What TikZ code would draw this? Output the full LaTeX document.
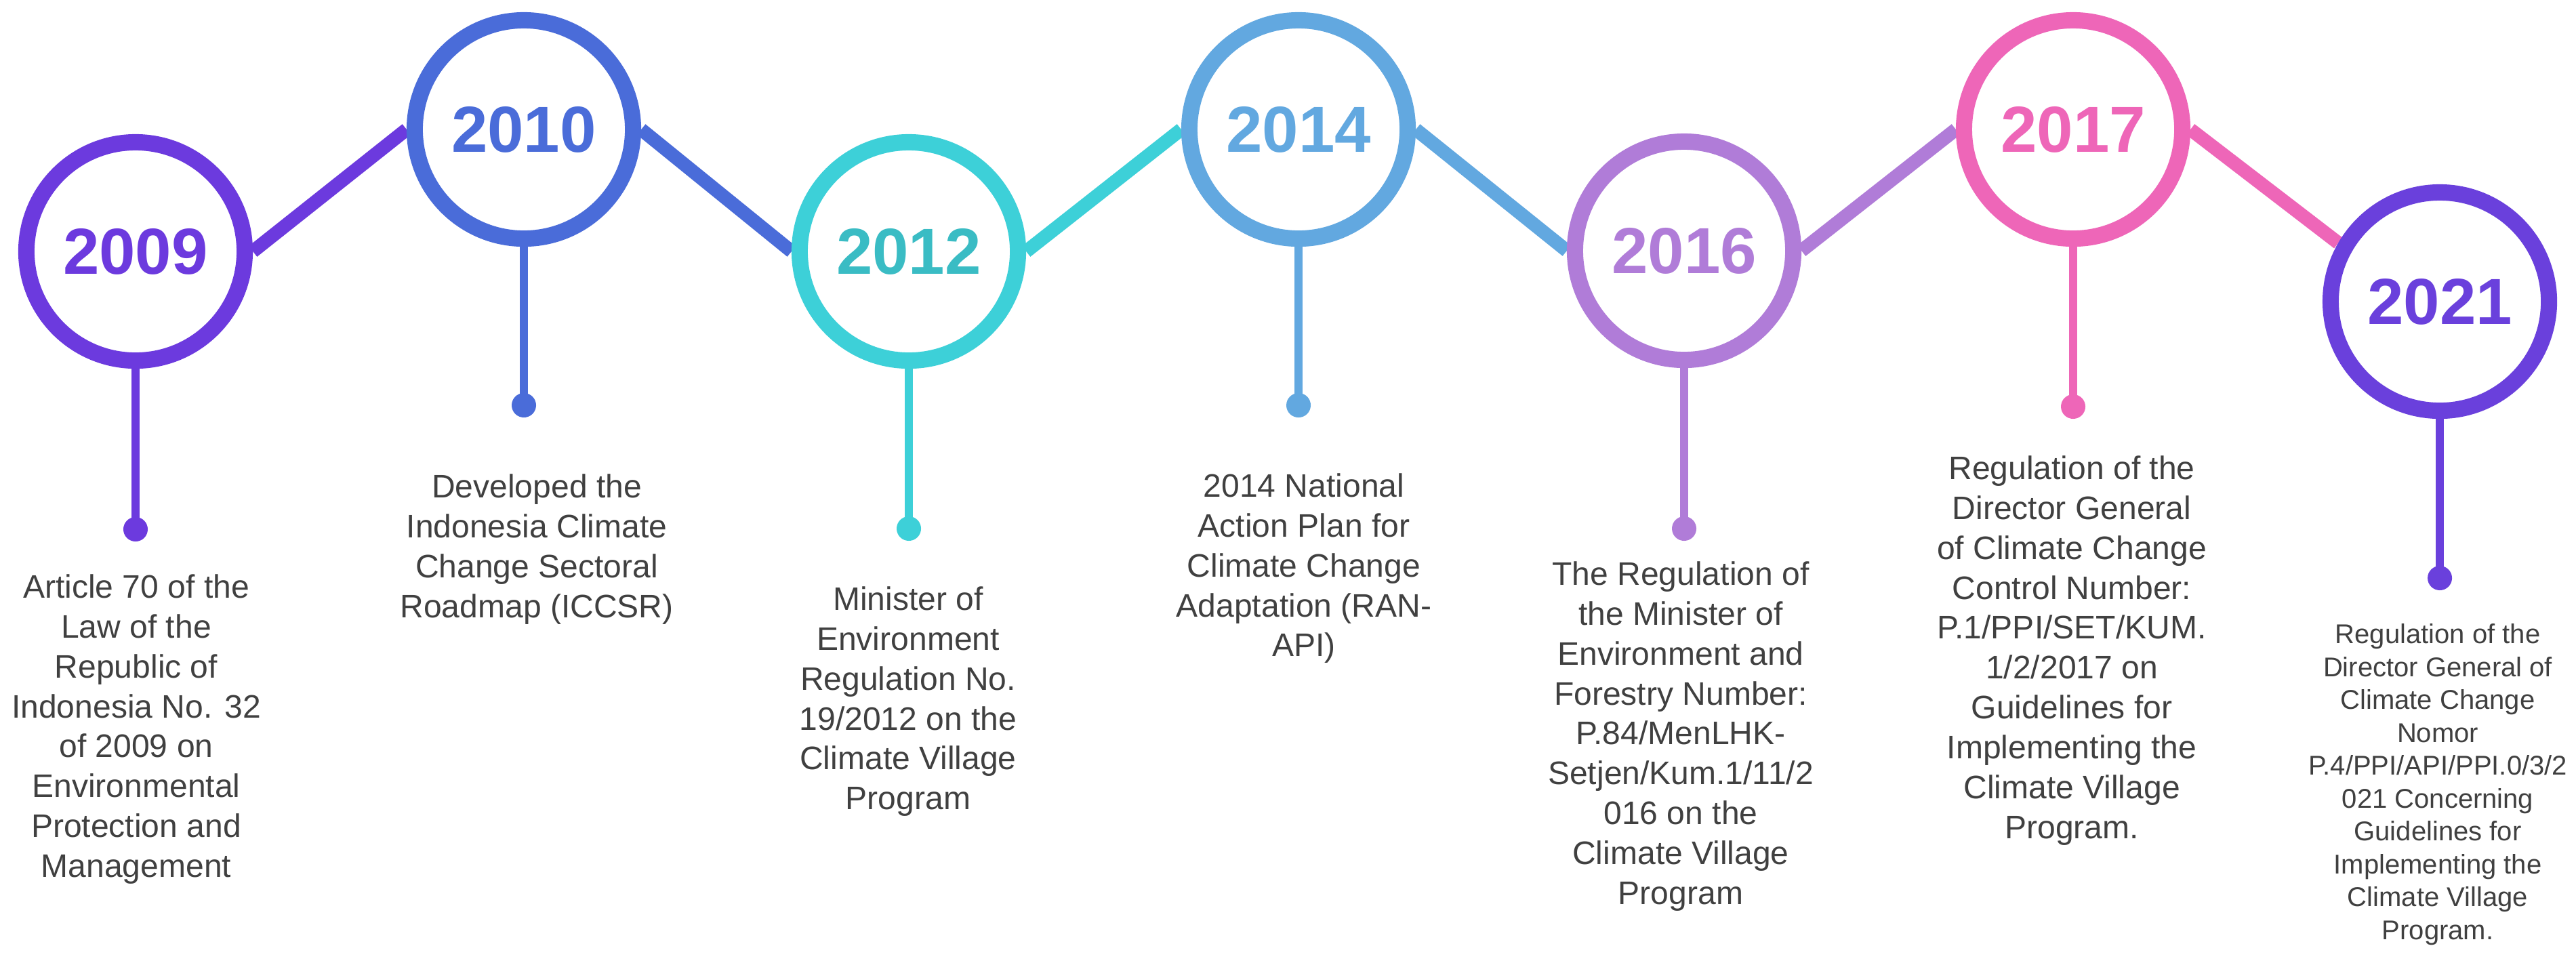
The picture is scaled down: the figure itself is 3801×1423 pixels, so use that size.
\documentclass[tikz,border=0pt]{standalone}
\usepackage{fontspec}
\setmainfont{Liberation Sans}
\definecolor{c09}{HTML}{6C3ADE}
\definecolor{c10}{HTML}{4A6CD9}
\definecolor{c12}{HTML}{3DD0D8}
\definecolor{t12}{HTML}{3ABCC4}
\definecolor{c14}{HTML}{62A8E0}
\definecolor{c16}{HTML}{B07CD8}
\definecolor{c17}{HTML}{EE66B8}
\definecolor{c21}{HTML}{6A40DC}
\definecolor{txt}{HTML}{404040}
\newcommand\yearfnt{\fontsize{0.96cm}{1.1cm}\selectfont\bfseries}
\newcommand\descfnt{\fontsize{0.48cm}{0.588cm}\selectfont}
\newcommand\smallfnt{\fontsize{0.40cm}{0.485cm}\selectfont}
\pgfdeclarelayer{paper}
\pgfdeclarelayer{back}
\pgfsetlayers{paper,back,main}
\tikzset{
  yearring/.style={circle, draw=#1, text=#1, line width=0.24cm, minimum size=3.22cm, inner sep=0pt, fill=white, font=\yearfnt},
  tlink/.style={draw=#1, line width=0.2cm},
  tstem/.style={draw=#1, line width=0.12cm},
  knob/.style={circle, fill=#1, minimum size=0.36cm, inner sep=0pt},
  tdesc/.style={align=center, anchor=north, inner sep=0pt, text=txt, font=\descfnt},
}
\begin{document}
\begin{tikzpicture}[x=0.01cm, y=-0.01cm]
\useasboundingbox (0,0) rectangle (3801,1423);
\begin{pgfonlayer}{paper}
\fill[white] (0,0) rectangle (3801,1423);
\end{pgfonlayer}

% year circles
\node[yearring=c09] (y09) at (200,371) {2009};
\node[yearring=c10] (y10) at (773,191) {2010};
\node[yearring=c12, text=t12] (y12) at (1341,371) {2012};
\node[yearring=c14] (y14) at (1916,191) {2014};
\node[yearring=c16] (y16) at (2485,370) {2016};
\node[yearring=c17] (y17) at (3059,191) {2017};
\node[yearring=c21] (y21) at (3600,445) {2021};

% end dots
\node[knob=c09] (d09) at (200,781) {};
\node[knob=c10] (d10) at (773,598) {};
\node[knob=c12] (d12) at (1341,780) {};
\node[knob=c14] (d14) at (1916,598) {};
\node[knob=c16] (d16) at (2485,780) {};
\node[knob=c17] (d17) at (3059,600) {};
\node[knob=c21] (d21) at (3600,853) {};

\begin{pgfonlayer}{back}
\draw[tlink=c09] (y09.east) -- (y10.west);
\draw[tlink=c10] (y10.east) -- (y12.west);
\draw[tlink=c12] (y12.east) -- (y14.west);
\draw[tlink=c14] (y14.east) -- (y16.west);
\draw[tlink=c16] (y16.east) -- (y17.west);
\draw[tlink=c17] (y17.east) -- (y21.150);
\draw[tstem=c09] (y09.south) -- (d09.center);
\draw[tstem=c10] (y10.south) -- (d10.center);
\draw[tstem=c12] (y12.south) -- (d12.center);
\draw[tstem=c14] (y14.south) -- (d14.center);
\draw[tstem=c16] (y16.south) -- (d16.center);
\draw[tstem=c17] (y17.south) -- (d17.center);
\draw[tstem=c21] (y21.south) -- (d21.center);
\end{pgfonlayer}

% descriptions
\node[tdesc] (t09) at (201,847) {Article 70 of the\\Law of the\\Republic of\\Indonesia No. 32\\of 2009 on\\Environmental\\Protection and\\Management};
\node[tdesc] (t10) at (792,699) {Developed the\\Indonesia Climate\\Change Sectoral\\Roadmap (ICCSR)};
\node[tdesc] (t12) at (1340,865) {Minister of\\Environment\\Regulation No.\\19/2012 on the\\Climate Village\\Program};
\node[tdesc] (t14) at (1924,698) {2014 National\\Action Plan for\\Climate Change\\Adaptation (RAN-\\API)};
\node[tdesc] (t16) at (2480,828) {The Regulation of\\the Minister of\\Environment and\\Forestry Number:\\P.84/MenLHK-\\Setjen/Kum.1/11/2\\016 on the\\Climate Village\\Program};
\node[tdesc] (t17) at (3057,672) {Regulation of the\\Director General\\of Climate Change\\Control Number:\\P.1/PPI/SET/KUM.\\1/2/2017 on\\Guidelines for\\Implementing the\\Climate Village\\Program.};
\node[tdesc, font=\smallfnt] (t21) at (3597,920) {Regulation of the\\Director General of\\Climate Change\\Nomor\\P.4/PPI/API/PPI.0/3/2\\021 Concerning\\Guidelines for\\Implementing the\\Climate Village\\Program.};
\end{tikzpicture}
\end{document}
